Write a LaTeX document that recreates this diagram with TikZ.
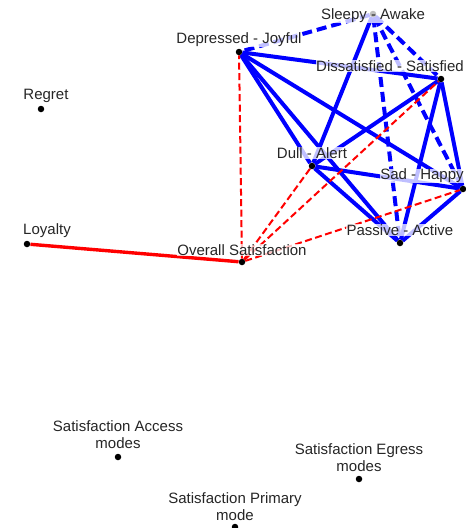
\documentclass[tikz,border=0pt]{standalone}
\usepackage{fontspec}
\setmainfont{Liberation Sans}
\usetikzlibrary{backgrounds}
\definecolor{tagtext}{HTML}{262626}

\begin{document}
\begin{tikzpicture}[x=1pt,y=-1pt,main node/.style={circle,fill=black,inner sep=0pt,minimum size=6.5pt},tag/.style={fill=white,fill opacity=0.75,text opacity=1,text=tagtext,inner sep=0.5pt,align=center,font=\fontsize{15}{17}\selectfont},posline/.style={blue,line width=4pt},posdash/.style={posline,dash pattern=on 10pt off 5pt},negline/.style={red,line width=3.4pt},negdash/.style={red,line width=2pt,dash pattern=on 7pt off 3.5pt}]
                \useasboundingbox (0,0) rectangle (466,528);

                \node[main node] (sa) at (373,14) {};
                \node[main node] (dj) at (239,52) {};
                \node[main node] (ds) at (441,79) {};
                \node[main node] (da) at (312,166) {};
                \node[main node] (sh) at (463,189) {};
                \node[main node] (pa) at (400,243) {};
                \node[main node] (os) at (242,262) {};
                \node[main node] (loy) at (27,244) {};
                \node[main node] (reg) at (41,109) {};
                \node[main node] (acc) at (118,457) {};
                \node[main node] (egr) at (359,479) {};
                \node[main node] (pri) at (235,527) {};

                \node[tag] (sa-l) at (373,16) {Sleepy - Awake};
                \node[tag] (dj-l) at (239,40) {Depressed - Joyful};
                \node[tag] (ds-l) at (390,66) {Dissatisfied - Satisfied};
                \node[tag] (da-l) at (312,153) {Dull - Alert};
                \node[tag] (sh-l) at (422,176) {Sad - Happy};
                \node[tag] (pa-l) at (400,230) {Passive - Active};
                \node[tag] (os-l) at (242,250) {Overall Satisfaction};
                \node[tag] (loy-l) at (47,231) {Loyalty};
                \node[tag] (reg-l) at (46,96) {Regret};
                \node[tag] (acc-l) at (118,435) {Satisfaction Access\\modes};
                \node[tag] (egr-l) at (359,458) {Satisfaction Egress\\modes};
                \node[tag] (pri-l) at (235,507) {Satisfaction Primary\\mode};

                \begin{pgfonlayer}{background}
                \path[posline]
                    (dj) edge (ds)
                    (dj) edge (da)
                    (dj) edge (sh)
                    (dj) edge (pa)
                    (sa) edge (da)
                    (ds) edge (da)
                    (ds) edge (sh)
                    (ds) edge (pa)
                    (da) edge (sh)
                    (da) edge (pa)
                    (sh) edge (pa)
                    ;
                \path[posdash]
                    (sa) edge (dj)
                    (sa) edge (ds)
                    (sa) edge (sh)
                    (sa) edge (pa)
                    ;
                \path[negline] (loy) edge (os);
                \path[negdash]
                    (os) edge (dj)
                    (os) edge (da)
                    (os) edge (ds)
                    (os) edge (sh)
                    ;
                \end{pgfonlayer}
            \end{tikzpicture}
\end{document}
